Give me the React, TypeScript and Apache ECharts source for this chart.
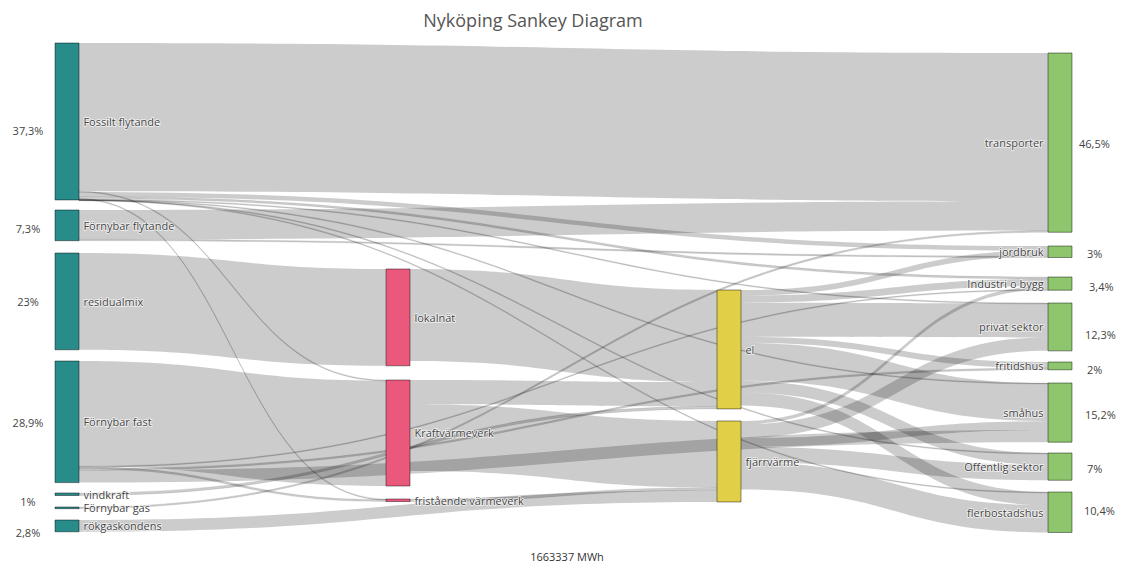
import React, { useEffect, useRef } from "react";
import * as echarts from "echarts";

const TITLE = "Nyköping Sankey Diagram";
const TOTAL_LABEL = "1663337 MWh";

// Node names per column
const sourceNames = ["Fossilt flytande", "Förnybar flytande", "residualmix", "Förnybar fast", "vindkraft", "Förnybar gas", "rökgaskondens"];
const conversionNames = ["lokalnät", "Kraftvärmeverk", "fristående värmeverk"];
const carrierNames = ["el", "fjärrvärme"];
const useNames = ["transporter", "jordbruk", "Industri o bygg", "privat sektor", "fritidshus", "småhus", "Offentlig sektor", "flerbostadshus"];

// Share labels
const sourceShares = ["37,3%", "7,3%", "23%", "28,9%", "1%", "2,8%"];
const useShares = ["46,5%", "3%", "3,4%", "12,3%", "2%", "15,2%", "7%", "10,4%"];

// Flows (MWh), [target, value] per source node
const fossilFlows: [string, number][] = [
  ["transporter", 586000], ["Kraftvärmeverk", 3000], ["jordbruk", 18000], ["Industri o bygg", 8000],
  ["fristående värmeverk", 2500], ["privat sektor", 1000], ["småhus", 800], ["Offentlig sektor", 600], ["flerbostadshus", 515],
];
const renewableLiquidFlows: [string, number][] = [["transporter", 116000], ["jordbruk", 5424]];
const residualFlows: [string, number][] = [["lokalnät", 382568]];
const renewableSolidFlows: [string, number][] = [
  ["Kraftvärmeverk", 416000], ["Industri o bygg", 2500], ["fristående värmeverk", 7434], ["fritidshus", 6770], ["småhus", 48000],
];
const windFlows: [string, number][] = [["el", 10000]];
const biogasFlows: [string, number][] = [["transporter", 6600]];
const fluegasFlows: [string, number][] = [["fjärrvärme", 46573]];
const localGridFlows: [string, number][] = [["el", 364000]];
const chpFlows: [string, number][] = [["el", 96000], ["fjärrvärme", 263427]];
const heatPlantFlows: [string, number][] = [["fjärrvärme", 10000]];
const elFlows: [string, number][] = [
  ["jordbruk", 22000], ["Industri o bygg", 28000], ["privat sektor", 135000], ["fritidshus", 24000],
  ["småhus", 150000], ["Offentlig sektor", 46000], ["flerbostadshus", 52000],
];
const districtHeatFlows: [string, number][] = [
  ["Industri o bygg", 13800], ["privat sektor", 53260], ["småhus", 35080], ["Offentlig sektor", 61100], ["flerbostadshus", 107485],
];

const flowsBySource: [string, [string, number][]][] = [
  ["Fossilt flytande", fossilFlows],
  ["Förnybar flytande", renewableLiquidFlows],
  ["residualmix", residualFlows],
  ["Förnybar fast", renewableSolidFlows],
  ["vindkraft", windFlows],
  ["Förnybar gas", biogasFlows],
  ["rökgaskondens", fluegasFlows],
  ["lokalnät", localGridFlows],
  ["Kraftvärmeverk", chpFlows],
  ["fristående värmeverk", heatPlantFlows],
  ["el", elFlows],
  ["fjärrvärme", districtHeatFlows],
];

// ---- layout (pixels) ----
const CHART_W = 1124;
const CHART_H = 563;
const PLOT_TOP = 42;
const PLOT_BOTTOM = 30;
const PLOT_H = CHART_H - PLOT_TOP - PLOT_BOTTOM;
const nodeTopPx: Record<string, number> = {
  "Fossilt flytande": 43, "Förnybar flytande": 210, residualmix: 253, "Förnybar fast": 361,
  vindkraft: 493, "Förnybar gas": 507, "rökgaskondens": 520,
  "lokalnät": 269, "Kraftvärmeverk": 380, "fristående värmeverk": 499,
  el: 290, "fjärrvärme": 421,
  transporter: 53, jordbruk: 246, "Industri o bygg": 277, "privat sektor": 303, fritidshus: 362,
  "småhus": 383, "Offentlig sektor": 453, flerbostadshus: 492,
};
const sourceShareY = [130, 228, 301, 422, 501, 532];
const useShareX = [1079, 1087, 1089, 1085, 1087, 1085, 1087, 1084];
const useShareY = [143, 253, 286, 334, 369, 414, 468, 510];

const COLORS = ["#278c8a", "#ea587c", "#e2cf48", "#8dc66c"];
const FONT = '"Open Sans", "Noto Sans", sans-serif';

export default function App() {
  const ref = useRef<HTMLDivElement>(null);
  useEffect(() => {
    document.body.style.margin = "0";
    if (!ref.current) return;
    const chart = echarts.init(ref.current, undefined, { renderer: "svg" });

    const columns = [sourceNames, conversionNames, carrierNames, useNames];
    const nodes: any[] = [];
    columns.forEach((names, depth) => {
      names.forEach((name) => {
        nodes.push({
          name,
          depth,
          localY: (nodeTopPx[name] - PLOT_TOP) / PLOT_H,
          itemStyle: { color: COLORS[depth], borderColor: "rgba(0,0,0,0.55)", borderWidth: 0.8 },
          label: { position: depth === 3 ? "left" : "right" },
        });
      });
    });

    const links: any[] = [];
    flowsBySource.forEach(([src, flows]) => {
      flows.forEach(([tgt, value]) => {
        const thin = value < 12000;
        links.push({
          source: src,
          target: tgt,
          value,
          lineStyle: thin
            ? { color: "#000", opacity: 0.2, borderColor: "rgba(0,0,0,0.85)", borderWidth: 0.55 }
            : { color: "#000", opacity: 0.2 },
        });
      });
    });

    const graphics: any[] = [
      {
        type: "text", x: 533, y: 20,
        style: { text: TITLE, fill: "#555", font: `18px ${FONT}`, textAlign: "center", textVerticalAlign: "middle" },
      },
      {
        type: "text", x: 567, y: 556,
        style: { text: TOTAL_LABEL, fill: "#333", font: `11px ${FONT}`, textAlign: "center", textVerticalAlign: "middle" },
      },
    ];
    sourceShares.forEach((t, i) => {
      graphics.push({
        type: "text", x: 28, y: sourceShareY[i],
        style: { text: t, fill: "#444", font: `11px ${FONT}`, textAlign: "center", textVerticalAlign: "middle" },
      });
    });
    useShares.forEach((t, i) => {
      graphics.push({
        type: "text", x: useShareX[i], y: useShareY[i],
        style: { text: t, fill: "#444", font: `11px ${FONT}`, textAlign: "left", textVerticalAlign: "middle" },
      });
    });

    chart.setOption({
      animation: false,
      backgroundColor: "#fff",
      graphic: graphics,
      series: [
        {
          type: "sankey",
          left: 55,
          right: CHART_W - 1072,
          top: PLOT_TOP,
          bottom: PLOT_BOTTOM,
          nodeWidth: 24,
          nodeGap: 11.5,
          layoutIterations: 0,
          draggable: false,
          emphasis: { disabled: true },
          label: { color: "#444", fontSize: 11, fontFamily: FONT, distance: 4, textBorderColor: "rgba(255,255,255,0.8)", textBorderWidth: 1.5 },
          lineStyle: { color: "#000", opacity: 0.2, curveness: 0.5 },
          data: nodes,
          links,
        },
      ],
    });
    return () => chart.dispose();
  }, []);
  return <div ref={ref} style={{ width: CHART_W, height: CHART_H }} />;
}
